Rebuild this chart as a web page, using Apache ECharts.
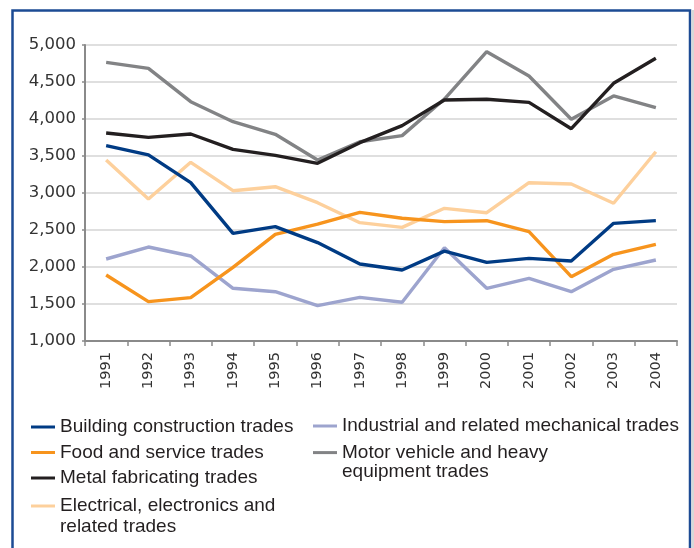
<!DOCTYPE html>
<html>
<head>
<meta charset="utf-8">
<script src="https://cdn.jsdelivr.net/npm/echarts@6/dist/echarts.min.js"></script>
<style>
html,body{margin:0;padding:0;background:#fff;}
#chart{width:694px;height:548px;}
</style>
</head>
<body>
<div id="chart"></div>
<script>
const years = ['1991','1992','1993','1994','1995','1996','1997','1998','1999','2000','2001','2002','2003','2004'];
const building = [3640,3515,3140,2455,2545,2330,2040,1960,2215,2063,2117,2082,2590,2626];
const food = [1892,1532,1586,1995,2441,2580,2739,2658,2613,2626,2477,1869,2171,2306];
const metal = [3811,3752,3797,3590,3509,3401,3680,3910,4257,4266,4225,3869,4482,4820];
const electrical = [3446,2919,3415,3031,3085,2869,2599,2536,2793,2734,3139,3122,2861,3558];
const industrial = [2108,2270,2149,1712,1666,1477,1590,1523,2261,1712,1847,1666,1969,2095];
const motor = [4766,4685,4234,3964,3793,3446,3693,3775,4270,4910,4581,3996,4311,4153];
const yTicks = {min:1000, max:5000, step:500};

const names = {
  building: 'Building construction trades',
  food: 'Food and service trades',
  metal: 'Metal fabricating trades',
  electrical: 'Electrical, electronics and related trades',
  industrial: 'Industrial and related mechanical trades',
  motor: 'Motor vehicle and heavy equipment trades'
};
// legend text split across two lines for the long names
const legendLines = {
  [names.electrical]: ['Electrical, electronics and', 'related trades'],
  [names.motor]: ['Motor vehicle and heavy', 'equipment trades']
};
const FONT = '"DejaVu Sans", Verdana, sans-serif';
const LFONT = '"Liberation Sans", Arial, sans-serif';
function ser(name, data, color){
  return {name, type:'line', data, symbol:'none', smooth:false,
    lineStyle:{color, width:3.4}, itemStyle:{color}, z:2};
}
const legendText = {fontSize:19, color:'#231f20', fontFamily:LFONT, lineHeight:20};
const legendFmt = n => legendLines[n] ? legendLines[n][0] : n;
function leg(left, top, gap, data){
  return {orient:'vertical', left, top, padding:0, itemGap:gap, itemWidth:24, itemHeight:3,
    icon:'rect', textStyle:legendText, formatter:legendFmt, data};
}
const chart = echarts.init(document.getElementById('chart'), null, {renderer:'canvas'});
chart.setOption({
  animation:false,
  backgroundColor:'#fff',
  grid:{left:85, right:17, top:45, bottom:207, containLabel:false},
  xAxis:{type:'category', data:years, boundaryGap:true,
    axisLine:{lineStyle:{color:'#8a8a8a', width:2}},
    axisTick:{show:true, length:5, lineStyle:{color:'#8a8a8a', width:1.5}},
    axisLabel:{rotate:90, margin:11, fontSize:14.5, color:'#333', fontFamily:FONT}},
  yAxis:{type:'value', min:yTicks.min, max:yTicks.max, interval:yTicks.step,
    axisLine:{show:true, lineStyle:{color:'#8a8a8a', width:2}},
    axisTick:{show:true, length:3, lineStyle:{color:'#8a8a8a', width:1.5}},
    splitLine:{lineStyle:{color:'#d4d4d4', width:1.5}},
    axisLabel:{fontSize:16.5, color:'#333', margin:9, fontFamily:FONT,
      formatter:v=>v.toLocaleString('en-US')}},
  legend:[
    leg(31, 417, 5.5, [names.building, names.food, names.metal]),
    leg(31, 496, 5.5, [names.electrical]),
    leg(313, 416, 6.6, [names.industrial, names.motor])
  ],
  graphic:[
    {type:'rect', shape:{x:12.5, y:10.5, width:677.5, height:560}, silent:true,
     style:{fill:null, stroke:'#1c4b94', lineWidth:2.5}},
    {type:'rect', shape:{x:691.5, y:10, width:2.5, height:540}, silent:true,
     style:{fill:'#d8d8d8'}},
    {type:'text', x:60, y:527, silent:true,
     style:{text:legendLines[names.electrical][1], font:'19px ' + LFONT, fill:'#231f20', verticalAlign:'middle'}},
    {type:'text', x:342, y:472, silent:true,
     style:{text:legendLines[names.motor][1], font:'19px ' + LFONT, fill:'#231f20', verticalAlign:'middle'}}
  ],
  series:[
    ser(names.electrical, electrical, '#fdd09c'),
    ser(names.industrial, industrial, '#9da4ce'),
    ser(names.food, food, '#f7941d'),
    ser(names.building, building, '#003b84'),
    ser(names.motor, motor, '#828385'),
    ser(names.metal, metal, '#231f20')
  ]
});
</script>
</body>
</html>
